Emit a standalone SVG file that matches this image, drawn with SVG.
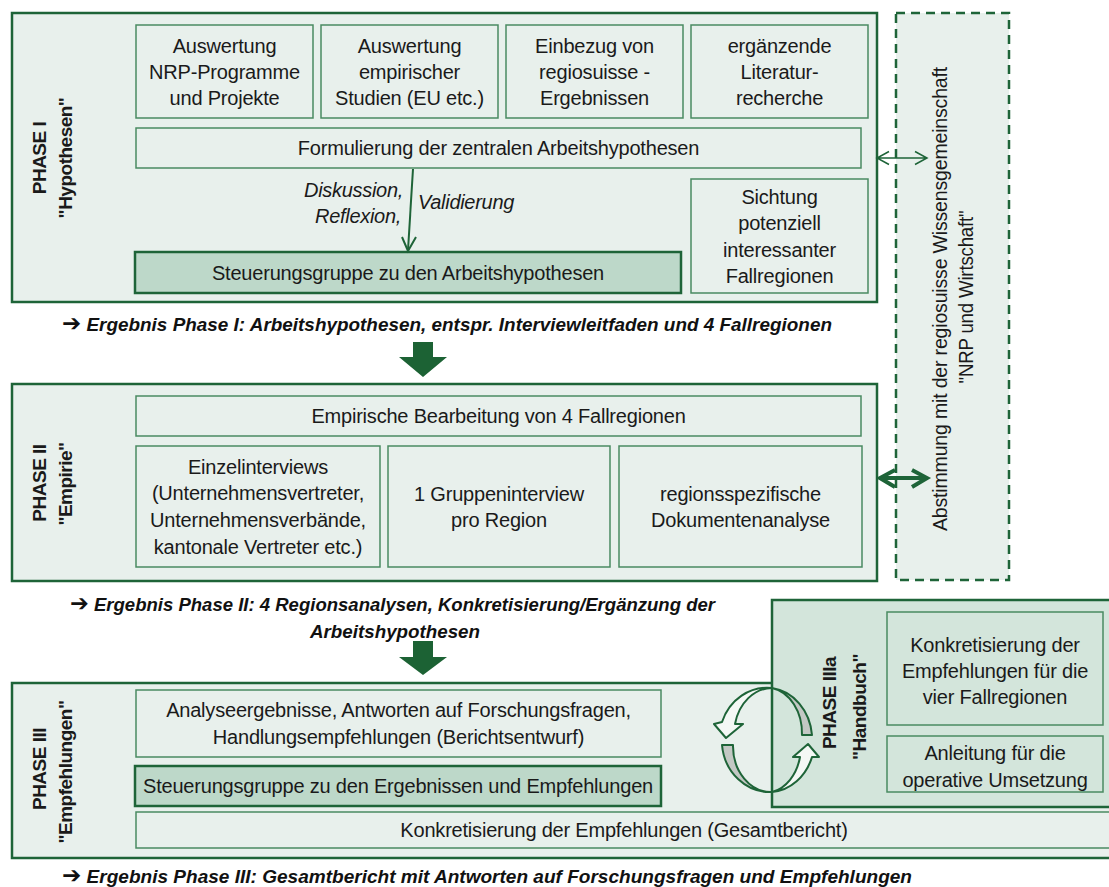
<svg xmlns="http://www.w3.org/2000/svg" width="1109" height="887" viewBox="0 0 1109 887">
<style>
.outer{fill:#e8f0ec;stroke:#1e6438;stroke-width:2.5}
.outerA{fill:#d3e5db;stroke:#1e6438;stroke-width:2.5}
.box{fill:#e8f0ec;stroke:#4a8a62;stroke-width:1.5}
.boxA{fill:#d3e5db;stroke:#4a8a62;stroke-width:1.5}
.steer{fill:#bdd8c9;stroke:#1e6438;stroke-width:2.5}
.dash{fill:#e8f0ec;stroke:#1e6438;stroke-width:2.5;stroke-dasharray:9 6}
.t{font-family:"Liberation Sans",Arial,sans-serif;font-size:20px;fill:#1a1a1a;letter-spacing:-0.2px;text-anchor:middle}
.i{font-family:"Liberation Sans",Arial,sans-serif;font-size:20px;fill:#1a1a1a;font-style:italic;letter-spacing:-0.3px}
.p{font-family:"Liberation Sans",Arial,sans-serif;font-size:19px;fill:#1a1a1a;font-weight:bold;letter-spacing:-0.5px;text-anchor:middle}
.r{font-family:"Liberation Sans","DejaVu Sans",Arial,sans-serif;font-size:19px;fill:#111;font-weight:bold;font-style:italic}
.ar{font-family:"DejaVu Sans",sans-serif;font-style:normal;font-weight:bold;font-size:23px}
.big{fill:#1c6234}
.ln{fill:none;stroke:#1e6438;stroke-width:2}
.cw{fill:#f4f8f5;stroke:#1e6438;stroke-width:2;stroke-linejoin:round}
.cg{fill:#c3c8c4;stroke:#1e6438;stroke-width:2;stroke-linejoin:round}
</style>

<g id="abstimmung">
<rect class="dash" x="896" y="13" width="113" height="567"/>
<text class="t" transform="translate(947,299) rotate(-90)" textLength="464" lengthAdjust="spacingAndGlyphs">Abstimmung mit der regiosuisse Wissensgemeinschaft</text>
<text class="t" transform="translate(973,297) rotate(-90)" textLength="173" lengthAdjust="spacingAndGlyphs">"NRP und Wirtschaft"</text>
</g>

<g id="phase1">
<rect class="outer" x="12" y="13" width="865" height="289"/>
<text class="p" transform="translate(46,158) rotate(-90)">PHASE I</text>
<text class="p" transform="translate(72,158) rotate(-90)">"Hypothesen"</text>
</g>
<g id="p1-box1"><rect class="box" x="136" y="25" width="177" height="93"/>
<text class="t" x="224.5" y="53">Auswertung</text><text class="t" x="224.5" y="79">NRP-Programme</text><text class="t" x="224.5" y="105">und Projekte</text></g>
<g id="p1-box2"><rect class="box" x="321" y="25" width="177" height="93"/>
<text class="t" x="409.5" y="53">Auswertung</text><text class="t" x="409.5" y="79">empirischer</text><text class="t" x="409.5" y="105">Studien (EU etc.)</text></g>
<g id="p1-box3"><rect class="box" x="506" y="25" width="177" height="93"/>
<text class="t" x="594.5" y="53">Einbezug von</text><text class="t" x="594.5" y="79">regiosuisse -</text><text class="t" x="594.5" y="105">Ergebnissen</text></g>
<g id="p1-box4"><rect class="box" x="691" y="25" width="177" height="93"/>
<text class="t" x="779.5" y="53">ergänzende</text><text class="t" x="779.5" y="79">Literatur-</text><text class="t" x="779.5" y="105">recherche</text></g>
<g id="p1-formulierung"><rect class="box" x="136" y="128" width="725" height="40"/>
<text class="t" x="498.5" y="155">Formulierung der zentralen Arbeitshypothesen</text></g>
<g id="p1-steuerung"><rect class="steer" x="135" y="252" width="546" height="41"/>
<text class="t" x="408" y="280">Steuerungsgruppe zu den Arbeitshypothesen</text></g>
<g id="p1-sichtung"><rect class="box" x="691" y="179" width="177" height="114"/>
<text class="t" x="779.5" y="204">Sichtung</text><text class="t" x="779.5" y="230">potenziell</text><text class="t" x="779.5" y="257">interessanter</text><text class="t" x="779.5" y="283">Fallregionen</text></g>

<g id="ergebnis1">
<text class="r" x="62" y="331" textLength="770" lengthAdjust="spacingAndGlyphs"><tspan class="ar">➔</tspan> Ergebnis Phase I: Arbeitshypothesen, entspr. Interviewleitfaden  und 4 Fallregionen</text>
</g>

<g id="phase2">
<rect class="outer" x="12" y="384" width="865" height="197"/>
<text class="p" transform="translate(46,483) rotate(-90)">PHASE II</text>
<text class="p" transform="translate(72,484) rotate(-90)">"Empirie"</text>
</g>
<g id="p2-bearbeitung"><rect class="box" x="136" y="396" width="725" height="40"/>
<text class="t" x="498.5" y="423">Empirische Bearbeitung von 4 Fallregionen</text></g>
<g id="p2-einzel"><rect class="box" x="136" y="446" width="244" height="121"/>
<text class="t" x="258" y="474">Einzelinterviews</text><text class="t" x="258" y="500">(Unternehmensvertreter,</text><text class="t" x="258" y="527">Unternehmensverbände,</text><text class="t" x="258" y="554">kantonale Vertreter etc.)</text></g>
<g id="p2-gruppe"><rect class="box" x="388" y="446" width="222" height="121"/>
<text class="t" x="499" y="501">1 Gruppeninterview</text><text class="t" x="499" y="527">pro Region</text></g>
<g id="p2-dokument"><rect class="box" x="619" y="446" width="243" height="121"/>
<text class="t" x="740.5" y="501">regionsspezifische</text><text class="t" x="740.5" y="527">Dokumentenanalyse</text></g>

<g id="ergebnis2">
<text class="r" x="70" y="611" textLength="645" lengthAdjust="spacingAndGlyphs"><tspan class="ar">➔</tspan> Ergebnis Phase II: 4 Regionsanalysen, Konkretisierung/Ergänzung  der</text>
<text class="r" x="310" y="638" textLength="170" lengthAdjust="spacingAndGlyphs">Arbeitshypothesen</text>
</g>

<g id="phase3">
<rect class="outer" x="12" y="683" width="1110" height="175"/>
<text class="p" transform="translate(46,769) rotate(-90)">PHASE III</text>
<text class="p" transform="translate(72,772) rotate(-90)">"Empfehlungen"</text>
</g>
<g id="phase3a">
<rect class="outerA" x="772" y="600" width="350" height="207"/>
<text class="p" transform="translate(836,703) rotate(-90)">PHASE IIIa</text>
<text class="p" transform="translate(866,707) rotate(-90)">"Handbuch"</text>
</g>
<g id="p3-analyse"><rect class="box" x="136" y="690" width="525" height="67"/>
<text class="t" x="398.5" y="717">Analyseergebnisse, Antworten auf Forschungsfragen,</text><text class="t" x="398.5" y="744">Handlungsempfehlungen (Berichtsentwurf)</text></g>
<g id="p3-steuerung"><rect class="steer" x="135" y="766" width="526" height="40"/>
<text class="t" x="398" y="793">Steuerungsgruppe zu den Ergebnissen und Empfehlungen</text></g>
<g id="p3-konkret"><rect class="box" x="136" y="812" width="986" height="36"/>
<text class="t" x="624" y="837">Konkretisierung der Empfehlungen (Gesamtbericht)</text></g>
<g id="p3a-konkret"><rect class="boxA" x="887" y="612" width="216" height="113"/>
<text class="t" x="995" y="652">Konkretisierung der</text><text class="t" x="995" y="678">Empfehlungen für die</text><text class="t" x="995" y="704">vier Fallregionen</text></g>
<g id="p3a-anleitung"><rect class="boxA" x="887" y="736" width="216" height="56"/>
<text class="t" x="995" y="760">Anleitung für die</text><text class="t" x="995" y="787">operative Umsetzung</text></g>

<g id="ergebnis3">
<text class="r" x="62" y="883" textLength="850" lengthAdjust="spacingAndGlyphs"><tspan class="ar">➔</tspan> Ergebnis Phase III: Gesamtbericht  mit Antworten auf Forschungsfragen  und Empfehlungen</text>
</g>

<g id="connectors">
<path class="ln" d="M413,169 L408,250"/>
<path class="ln" d="M402,237 L408,251 L416,237"/>
<text class="i" x="403" y="197" text-anchor="end">Diskussion,</text>
<text class="i" x="401" y="223" text-anchor="end">Reflexion,</text>
<text class="i" x="418" y="209">Validierung</text>
<path d="M877,158 L927,158 M889,151.5 L877,158 L889,164.5 M915,151.5 L927,158 L915,164.5" fill="none" stroke="#1e6438" stroke-width="1.5"/>
<path d="M880,478 L927,478 M895,470 L880,478 L895,487 M912,470 L927,478 L912,487" fill="none" stroke="#1e6438" stroke-width="4" stroke-linejoin="miter"/>
<path class="big" d="M413,342 L433,342 L433,357 L447,357 L423,377 L399,357 L413,357 Z"/>
<path class="big" d="M413,641 L433,641 L433,657 L447,657 L423,675 L399,657 L413,657 Z"/>
<path class="cg" d="M772,688 A46,52 0 0 1 812,735 L802,735 A36,46 0 0 0 772,688 Z"/>
<path class="cw" d="M772,688 A48,52 0 0 0 722,722 L714,724 L726,738 L743,724 L735,724 A38,46 0 0 1 772,688 Z"/>
<path class="cg" d="M722,745 L733,745 A38,46 0 0 0 772,792 A48,52 0 0 1 722,745 Z"/>
<path class="cw" d="M772,792 A46,52 0 0 0 812,757 L819,757 L808,744 L793,757 L800,757 A36,46 0 0 1 772,792 Z"/>
</g>
</svg>
